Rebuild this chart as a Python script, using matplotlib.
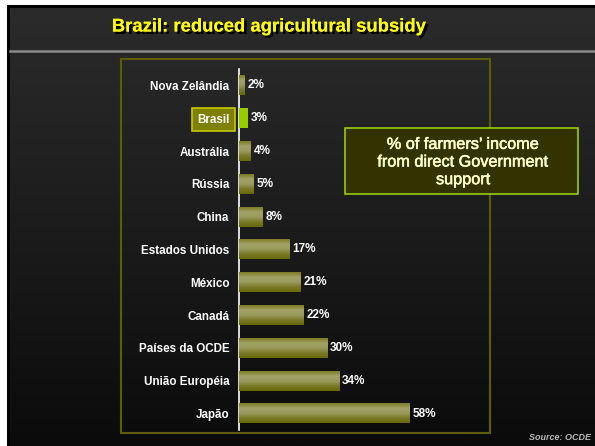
import matplotlib
matplotlib.use("Agg")
import matplotlib.pyplot as plt
import numpy as np
from matplotlib.patches import Rectangle
from matplotlib.colors import LinearSegmentedColormap
import matplotlib.patheffects as pe
from matplotlib import font_manager

countries = ["Nova Zelândia", "Brasil", "Austrália", "Rússia", "China",
             "Estados Unidos", "México", "Canadá", "Países da OCDE",
             "União Européia", "Japão"]
values = [2, 3, 4, 5, 8, 17, 21, 22, 30, 34, 58]
value_labels = ["2%", "3%", "4%", "5%", "8%", "17%", "21%", "22%", "30%", "34%", "58%"]
highlight = "Brasil"

plt.rcParams['font.family'] = ['Liberation Sans', 'DejaVu Sans']

names = {f.name for f in font_manager.fontManager.ttflist}
title_family = ['Liberation Sans Narrow', 'Liberation Sans'] if 'Liberation Sans Narrow' in names else ['Liberation Sans']
title_size = 16 if 'Liberation Sans Narrow' in names else 13.3

W, H = 595, 446
fig = plt.figure(figsize=(W / 100, H / 100), dpi=100)
fig.patch.set_facecolor("white")

def fx(px):
    return px / W

def fy(py):
    return 1 - py / H

# black frame and gradient background
bgax = fig.add_axes([0, 0, 1, 1])
bgax.set_xlim(0, W)
bgax.set_ylim(H, 0)
bgax.axis("off")
bgax.add_patch(Rectangle((7, 5), W - 7, H - 5, facecolor="black", edgecolor="none"))
grad = np.linspace(0, 1, 256).reshape(-1, 1)
bgcmap = LinearSegmentedColormap.from_list("bg", ["#2b2b2b", "#1c1c1c", "#0b0b0b"])
bgax.imshow(grad, cmap=bgcmap, extent=(10, W, H, 8), aspect="auto", zorder=1)
bgax.plot([10, W], [51, 51], color="#8a8a8a", lw=1.8, zorder=2)
bgax.add_patch(Rectangle((121, 59), 369, 374, facecolor="none",
                         edgecolor="#5e5e00", lw=1.5, zorder=2))

# title
fig.text(fx(268.5), fy(27), "Brazil: reduced agricultural subsidy", color="#ffff00",
         fontsize=title_size, fontweight="bold", ha="center", va="center",
         family=title_family,
         path_effects=[pe.withSimplePatchShadow(offset=(1.8, -1.8), shadow_rgbFace="black", alpha=1.0),
                       pe.Normal()])

# chart axes
ax = fig.add_axes([fx(239), fy(430), fx(490) - fx(239), fy(69) - fy(430)])
ax.set_facecolor("none")
xmax = (490 - 239) / ((410 - 239) / 58)
n = len(countries)
for s in ["top", "right", "bottom"]:
    ax.spines[s].set_visible(False)
ax.spines["left"].set_color("white")
ax.spines["left"].set_linewidth(1.2)
ax.set_xticks([])
ax.set_yticks(range(n))
ax.set_yticklabels(countries, color="white", fontsize=8.4, fontweight="bold")
ax.tick_params(axis="y", length=0, pad=7)

bar_h = 0.6
bar_cmap = LinearSegmentedColormap.from_list(
    "bar", ["#7c7c22", "#a2a268", "#9a9a5c", "#7a7a28", "#686808"])
gy = np.linspace(0, 1, 64).reshape(-1, 1)
for i, (c, v, lab) in enumerate(zip(countries, values, value_labels)):
    if c == highlight:
        ax.barh(i, v, height=bar_h, color="#99cc00", edgecolor="none", zorder=3)
    else:
        ax.imshow(gy, cmap=bar_cmap, extent=(0, v, i + bar_h / 2, i - bar_h / 2),
                  aspect="auto", zorder=3, interpolation="bilinear")
    ax.text(v + 0.9, i, lab, color="white", fontsize=8.5, fontweight="bold",
            va="center", ha="left", zorder=4)
ax.set_xlim(0, xmax)
ax.set_ylim(n - 0.5, -0.5)

for t in ax.get_yticklabels():
    if t.get_text() == highlight:
        t.set_bbox(dict(facecolor="#808000", edgecolor="#c8c800", lw=1.2,
                        boxstyle="square,pad=0.45"))

# note box
bgax.add_patch(Rectangle((345, 128), 233, 66, facecolor="#333300",
                         edgecolor="#99cc00", lw=1.2, zorder=3))
fig.text(fx(463), fy(162), "% of farmers’ income\nfrom direct Government\nsupport",
         color="#ffffcc", fontsize=11.7, ha="center", va="center", linespacing=1.22,
         zorder=5, path_effects=[pe.withStroke(linewidth=0.4, foreground="#ffffcc")])

fig.text(fx(591), fy(437), "Source: OCDE", color="#bbbbbb", fontsize=6.5,
         fontweight="bold", style="italic", ha="right", va="center")

fig.savefig("out.png", dpi=100, facecolor=fig.get_facecolor())
